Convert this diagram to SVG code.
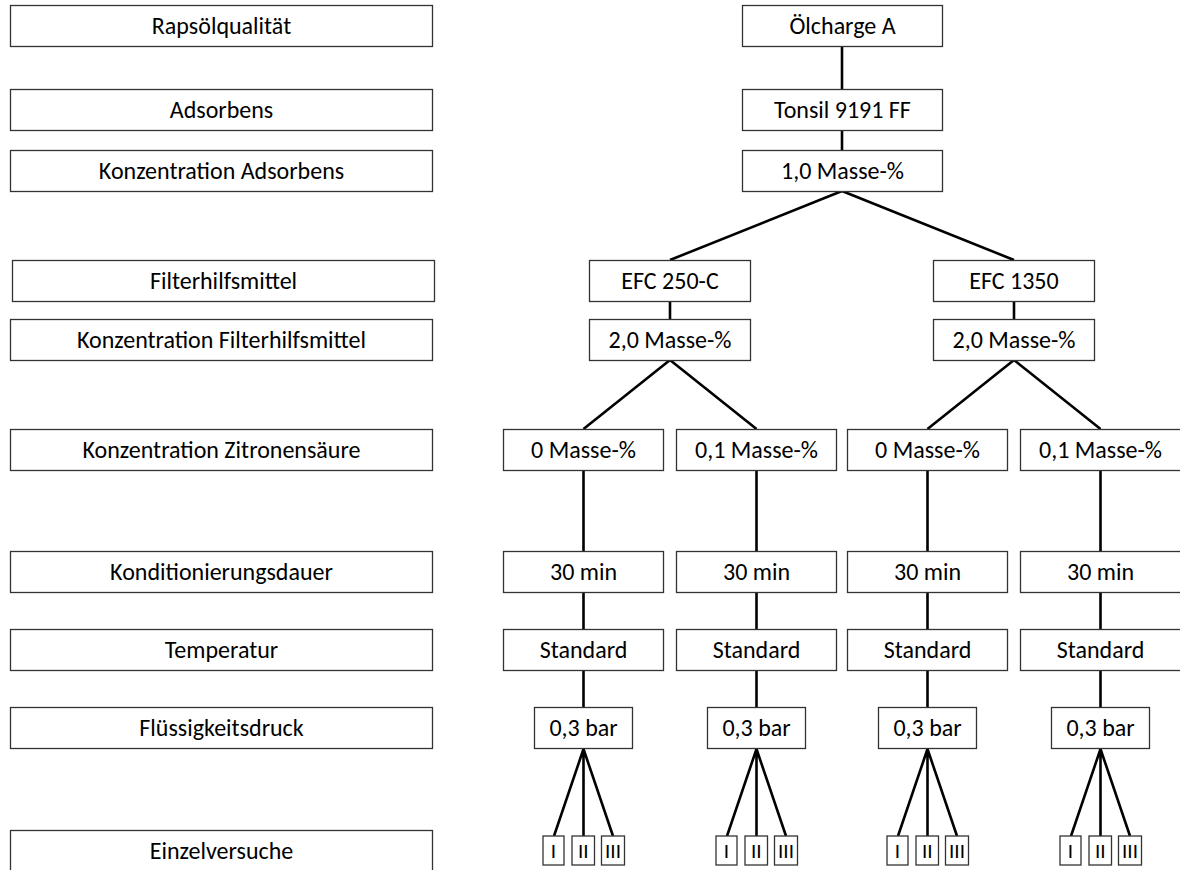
<svg xmlns="http://www.w3.org/2000/svg" width="1180" height="870" viewBox="0 0 1180 870">
<style>
  .box { fill: #ffffff; stroke: #333333; stroke-width: 1.3; }
  .t { font-family: Carlito, Calibri, Lato, "Liberation Sans", sans-serif; font-size: 24px; fill: #000; text-anchor: middle; }
  .s { font-family: Carlito, Calibri, Lato, "Liberation Sans", sans-serif; font-size: 21px; fill: #000; text-anchor: middle; }
  .c { stroke: #000; stroke-width: 2.6; fill: none; }
</style>
<rect width="1180" height="870" fill="#ffffff"/>

<g id="labels">
  <g id="lab-rapsoel"><rect class="box" x="10.5" y="5.5" width="422" height="41"/><text class="t" x="221.5" y="34">Rapsölqualität</text></g>
  <g id="lab-adsorbens"><rect class="box" x="10.5" y="89.5" width="422" height="41"/><text class="t" x="221.5" y="118">Adsorbens</text></g>
  <g id="lab-konz-ads"><rect class="box" x="10.5" y="150.5" width="422" height="41"/><text class="t" x="221.5" y="179">Konzentration Adsorbens</text></g>
  <g id="lab-filter"><rect class="box" x="12.5" y="260.5" width="422" height="41"/><text class="t" x="223.5" y="289">Filterhilfsmittel</text></g>
  <g id="lab-konz-filter"><rect class="box" x="10.5" y="319.5" width="422" height="41"/><text class="t" x="221.5" y="348">Konzentration Filterhilfsmittel</text></g>
  <g id="lab-konz-zitr"><rect class="box" x="10.5" y="429.5" width="422" height="41"/><text class="t" x="221.5" y="458">Konzentration Zitronensäure</text></g>
  <g id="lab-kond"><rect class="box" x="10.5" y="551.5" width="422" height="41"/><text class="t" x="221.5" y="580">Konditionierungsdauer</text></g>
  <g id="lab-temp"><rect class="box" x="10.5" y="629.5" width="422" height="41"/><text class="t" x="221.5" y="658">Temperatur</text></g>
  <g id="lab-druck"><rect class="box" x="10.5" y="707.5" width="422" height="41"/><text class="t" x="221.5" y="736">Flüssigkeitsdruck</text></g>
  <g id="lab-einzel"><rect class="box" x="10.5" y="830.5" width="422" height="45"/><text class="t" x="221.5" y="859">Einzelversuche</text></g>
</g>

<g id="connectors" class="c">
  <line x1="842" y1="46" x2="842" y2="89"/>
  <line x1="842" y1="130" x2="842" y2="150"/>
  <line x1="842" y1="191" x2="670" y2="260"/>
  <line x1="842" y1="191" x2="1014" y2="260"/>
  <line x1="670" y1="301" x2="670" y2="319"/>
  <line x1="1014" y1="301" x2="1014" y2="319"/>
  <line x1="670" y1="360" x2="583.5" y2="429"/>
  <line x1="670" y1="360" x2="756.5" y2="429"/>
  <line x1="1014" y1="360" x2="927.5" y2="429"/>
  <line x1="1014" y1="360" x2="1100.5" y2="429"/>
  <path d="M583.5 470V552M583.5 592V629M583.5 670V707M583.5 749L554 836M583.5 749V836M583.5 749L613 836"/>
  <path d="M756.5 470V552M756.5 592V629M756.5 670V707M756.5 749L727 836M756.5 749V836M756.5 749L786 836"/>
  <path d="M927.5 470V552M927.5 592V629M927.5 670V707M927.5 749L898 836M927.5 749V836M927.5 749L957 836"/>
  <path d="M1100.5 470V552M1100.5 592V629M1100.5 670V707M1100.5 749L1071 836M1100.5 749V836M1100.5 749L1130 836"/>
</g>

<g id="n-oelcharge"><rect class="box" x="742.5" y="5.5" width="200" height="41"/><text class="t" x="842.5" y="34">Ölcharge A</text></g>
<g id="n-tonsil"><rect class="box" x="742.5" y="89.5" width="200" height="41"/><text class="t" x="842.5" y="118">Tonsil 9191 FF</text></g>
<g id="n-ads-konz"><rect class="box" x="742.5" y="150.5" width="200" height="41"/><text class="t" x="842.5" y="179">1,0 Masse-%</text></g>

<g id="n-efc250"><rect class="box" x="589.5" y="260.5" width="161" height="41"/><text class="t" x="670" y="289">EFC 250-C</text></g>
<g id="n-efc1350"><rect class="box" x="933.5" y="260.5" width="161" height="41"/><text class="t" x="1014" y="289">EFC 1350</text></g>
<g id="n-fh-konz-a"><rect class="box" x="589.5" y="319.5" width="161" height="41"/><text class="t" x="670" y="348">2,0 Masse-%</text></g>
<g id="n-fh-konz-b"><rect class="box" x="933.5" y="319.5" width="161" height="41"/><text class="t" x="1014" y="348">2,0 Masse-%</text></g>

<g id="n-zs-1"><rect class="box" x="503.5" y="429.5" width="160" height="41"/><text class="t" x="583.5" y="458">0 Masse-%</text></g>
<g id="n-zs-2"><rect class="box" x="676.5" y="429.5" width="160" height="41"/><text class="t" x="756.5" y="458">0,1 Masse-%</text></g>
<g id="n-zs-3"><rect class="box" x="847.5" y="429.5" width="160" height="41"/><text class="t" x="927.5" y="458">0 Masse-%</text></g>
<g id="n-zs-4"><rect class="box" x="1020.5" y="429.5" width="162" height="41"/><text class="t" x="1100.5" y="458">0,1 Masse-%</text></g>

<g id="n-kd-1"><rect class="box" x="503.5" y="551.5" width="160" height="41"/><text class="t" x="583.5" y="580">30 min</text></g>
<g id="n-kd-2"><rect class="box" x="676.5" y="551.5" width="160" height="41"/><text class="t" x="756.5" y="580">30 min</text></g>
<g id="n-kd-3"><rect class="box" x="847.5" y="551.5" width="160" height="41"/><text class="t" x="927.5" y="580">30 min</text></g>
<g id="n-kd-4"><rect class="box" x="1020.5" y="551.5" width="162" height="41"/><text class="t" x="1100.5" y="580">30 min</text></g>

<g id="n-tp-1"><rect class="box" x="503.5" y="629.5" width="160" height="41"/><text class="t" x="583.5" y="658">Standard</text></g>
<g id="n-tp-2"><rect class="box" x="676.5" y="629.5" width="160" height="41"/><text class="t" x="756.5" y="658">Standard</text></g>
<g id="n-tp-3"><rect class="box" x="847.5" y="629.5" width="160" height="41"/><text class="t" x="927.5" y="658">Standard</text></g>
<g id="n-tp-4"><rect class="box" x="1020.5" y="629.5" width="162" height="41"/><text class="t" x="1100.5" y="658">Standard</text></g>

<g id="n-dr-1"><rect class="box" x="534.5" y="707.5" width="98" height="41"/><text class="t" x="583.5" y="736">0,3 bar</text></g>
<g id="n-dr-2"><rect class="box" x="707.5" y="707.5" width="98" height="41"/><text class="t" x="756.5" y="736">0,3 bar</text></g>
<g id="n-dr-3"><rect class="box" x="878.5" y="707.5" width="98" height="41"/><text class="t" x="927.5" y="736">0,3 bar</text></g>
<g id="n-dr-4"><rect class="box" x="1051.5" y="707.5" width="98" height="41"/><text class="t" x="1100.5" y="736">0,3 bar</text></g>

<g id="n-ev-1">
  <rect class="box" x="543" y="836" width="21" height="29"/><text class="s" x="553.5" y="858">I</text>
  <rect class="box" x="572" y="836" width="22.5" height="29"/><text class="s" x="583.3" y="858">II</text>
  <rect class="box" x="601.5" y="836" width="23" height="29"/><text class="s" x="613" y="858">III</text>
</g>
<g id="n-ev-2">
  <rect class="box" x="716" y="836" width="21" height="29"/><text class="s" x="726.5" y="858">I</text>
  <rect class="box" x="745" y="836" width="22.5" height="29"/><text class="s" x="756.3" y="858">II</text>
  <rect class="box" x="774.5" y="836" width="23" height="29"/><text class="s" x="786" y="858">III</text>
</g>
<g id="n-ev-3">
  <rect class="box" x="887" y="836" width="21" height="29"/><text class="s" x="897.5" y="858">I</text>
  <rect class="box" x="916" y="836" width="22.5" height="29"/><text class="s" x="927.3" y="858">II</text>
  <rect class="box" x="945.5" y="836" width="23" height="29"/><text class="s" x="957" y="858">III</text>
</g>
<g id="n-ev-4">
  <rect class="box" x="1060" y="836" width="21" height="29"/><text class="s" x="1070.5" y="858">I</text>
  <rect class="box" x="1089" y="836" width="22.5" height="29"/><text class="s" x="1100.3" y="858">II</text>
  <rect class="box" x="1118.5" y="836" width="23" height="29"/><text class="s" x="1130" y="858">III</text>
</g>
</svg>
